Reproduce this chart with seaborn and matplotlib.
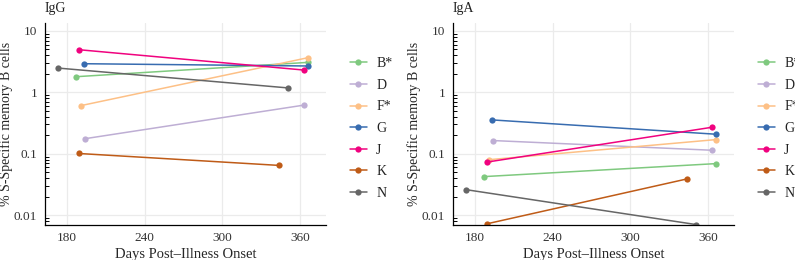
import matplotlib
matplotlib.use("Agg")
import matplotlib.pyplot as plt
import matplotlib.ticker as mticker
import seaborn as sns
import pandas as pd

# donors and sampling days (first / second visit)
donors = ['B*', 'D', 'F*', 'G', 'J', 'K', 'N']
day_first = [187, 194, 191, 193, 189, 189, 173]
day_second = [366, 363, 366, 366, 363, 344, 351]

# % S-specific memory B cells
igg_first = [1.8, 0.176, 0.61, 2.93, 4.96, 0.101, 2.49]
igg_second = [3.08, 0.62, 3.67, 2.69, 2.31, 0.0645, 1.18]
iga_first = [0.0424, 0.164, 0.080, 0.356, 0.073, 0.0072, 0.026]
iga_second = [0.069, 0.114, 0.17, 0.208, 0.27, 0.039, 0.0070]

x_ticks = [180, 240, 300, 360]
y_ticks = [0.01, 0.1, 1, 10]
y_tick_labels = ['0.01', '0.1', '1', '10']

colors = ['#7fc97f', '#beaed4', '#fdc086', '#386cb0', '#f0027f', '#bf5b17', '#666666']


def make_df(first, second):
    rows = []
    for i, d in enumerate(donors):
        rows.append((d, day_first[i], first[i]))
        rows.append((d, day_second[i], second[i]))
    return pd.DataFrame(rows, columns=['donor', 'day', 'pct'])


sns.set_style("white")
plt.rcParams['font.family'] = ['Liberation Serif', 'DejaVu Serif']
plt.rcParams['text.color'] = '#222222'

fig = plt.figure(figsize=(7.95, 2.6), dpi=100)
ax1 = fig.add_axes([45 / 795, 35 / 260, 281 / 795, 202 / 260])
ax2 = fig.add_axes([453 / 795, 35 / 260, 281 / 795, 202 / 260])

for ax, first, second, title in [(ax1, igg_first, igg_second, 'IgG'),
                                 (ax2, iga_first, iga_second, 'IgA')]:
    df = make_df(first, second)
    sns.lineplot(data=df, x='day', y='pct', hue='donor', hue_order=donors,
                 palette=colors, marker='o', markersize=4.5, markeredgewidth=0,
                 linewidth=1.1, ax=ax)
    ax.set_yscale('log')
    ax.set_xlim(163, 380)
    ax.set_ylim(0.0069, 13.5)
    ax.set_xticks(x_ticks)
    ax.yaxis.set_major_locator(mticker.FixedLocator(y_ticks))
    ax.yaxis.set_major_formatter(mticker.FixedFormatter(y_tick_labels))
    ax.yaxis.set_minor_locator(mticker.LogLocator(base=10, subs=range(2, 10)))
    ax.yaxis.set_minor_formatter(mticker.NullFormatter())
    ax.grid(True, which='major', color='#ebebeb', linewidth=0.9)
    ax.set_axisbelow(True)
    for s in ['top', 'right']:
        ax.spines[s].set_visible(False)
    for s in ['left', 'bottom']:
        ax.spines[s].set_color('black')
        ax.spines[s].set_linewidth(0.9)
    ax.tick_params(axis='x', which='major', direction='out', length=3, width=0.8,
                   labelsize=9.5, colors='black', labelcolor='#333333', pad=2)
    ax.tick_params(axis='y', which='major', direction='inout', length=9, width=0.8,
                   labelsize=9.5, colors='black', labelcolor='#333333', pad=1)
    ax.tick_params(axis='y', which='minor', direction='in', length=3, width=0.7,
                   colors='black', left=True)
    ax.set_xlabel('Days Post–Illness Onset', fontsize=10.5, labelpad=3)
    ax.set_ylabel('% S-Specific memory B cells', fontsize=10, labelpad=1)
    ax.text(0.0, 1.055, title, transform=ax.transAxes, fontsize=10,
            ha='left', va='baseline')
    sns.move_legend(ax, 'upper left', bbox_to_anchor=(1.06, 0.865), frameon=False,
                    title=None, fontsize=10, borderpad=0, handlelength=1.25,
                    handletextpad=0.65, labelspacing=0.62)

fig.savefig('out.png', dpi=100)
